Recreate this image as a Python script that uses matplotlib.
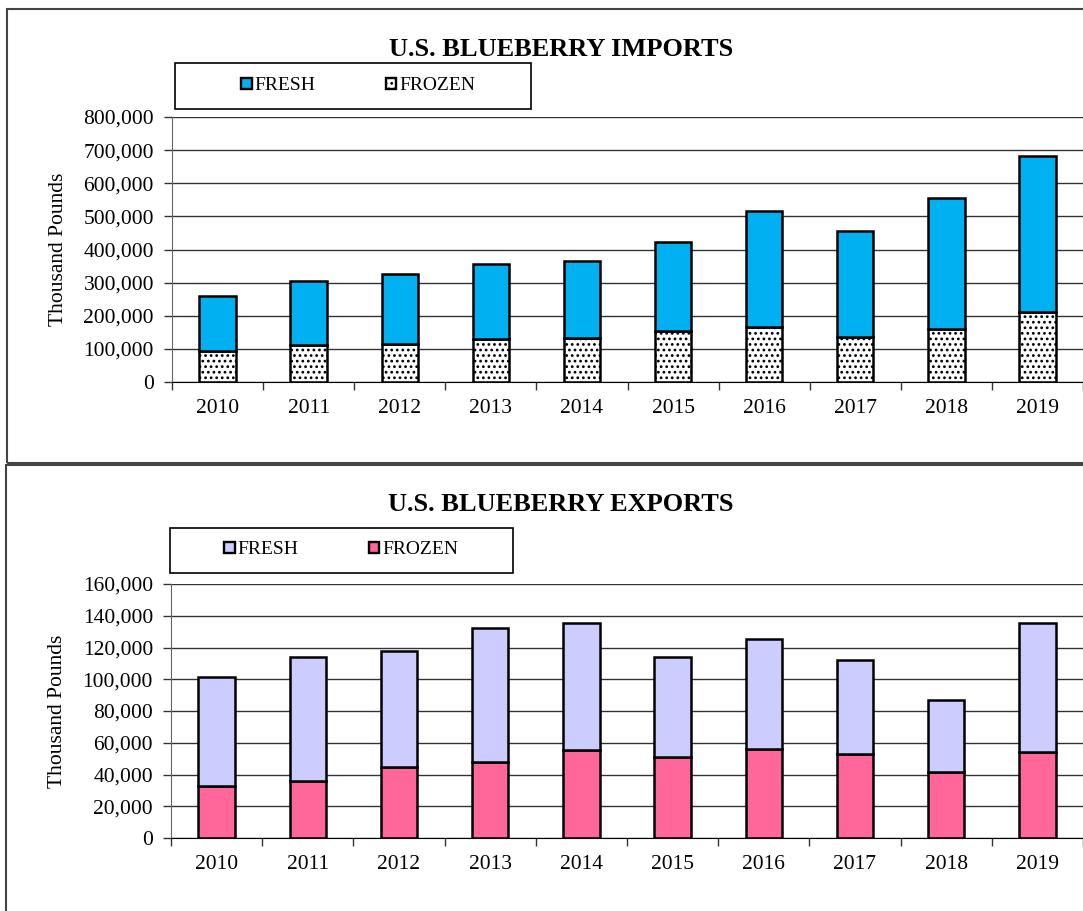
import numpy as np
import matplotlib.pyplot as plt
from matplotlib.patches import Rectangle, Patch

plt.rcParams['font.family'] = 'Liberation Serif'
plt.rcParams['hatch.linewidth'] = 1.2

years = ['2010', '2011', '2012', '2013', '2014', '2015', '2016', '2017', '2018', '2019']

# thousand pounds
imp_frozen = [93000, 113000, 116000, 131000, 133000, 153000, 167000, 137000, 161000, 212000]
imp_total = [261000, 304000, 327000, 357000, 366000, 422000, 517000, 456000, 555000, 683000]
exp_frozen = [32600, 35800, 44600, 47800, 55600, 51200, 55800, 53100, 41500, 54300]
exp_total = [101500, 114300, 118100, 132200, 135200, 114100, 125500, 112000, 86700, 135400]

imp_fresh = [t - f for t, f in zip(imp_total, imp_frozen)]
exp_fresh = [t - f for t, f in zip(exp_total, exp_frozen)]

W, H = 1083, 911
fig = plt.figure(figsize=(W / 100, H / 100), dpi=100)


def fx(px):
    return px / W


def fy(py):
    return 1 - py / H


# panel frames
fig.patches.append(Rectangle((fx(7), fy(463)), 1.2, fy(9) - fy(463), transform=fig.transFigure,
                             fill=False, edgecolor='#444444', lw=1.5))
fig.patches.append(Rectangle((fx(6), fy(1000)), 1.2, fy(465) - fy(1000), transform=fig.transFigure,
                             fill=False, edgecolor='#444444', lw=1.5))


def panel(rect, bottom_vals, top_vals, bottom_style, top_color, ymax, step, title, title_y,
          leg_box, leg_center):
    ax = fig.add_axes(rect)
    x = np.arange(len(years))
    ax.bar(x, bottom_vals, width=0.4, edgecolor='black', linewidth=1.8, **bottom_style)
    ax.bar(x, top_vals, width=0.4, bottom=bottom_vals, color=top_color,
           edgecolor='black', linewidth=1.8)
    ax.set_xlim(-0.5, 9.5)
    ax.set_ylim(0, ymax)
    ax.set_yticks(np.arange(0, ymax + 1, step))
    ax.set_yticklabels([f'{int(v):,}' for v in np.arange(0, ymax + 1, step)], fontsize=15.5)
    ax.set_xticks(x)
    ax.set_xticklabels(years, fontsize=15.5)
    ax.set_xticks(np.arange(-0.5, 10, 1), minor=True)
    ax.tick_params(axis='x', which='major', length=0, pad=12)
    ax.tick_params(axis='x', which='minor', length=6, width=1, color='#333333')
    ax.tick_params(axis='y', length=6, width=1, color='#333333', pad=7)
    ax.grid(axis='y', color='#333333', lw=1)
    ax.set_axisbelow(True)
    for s in ['top', 'right']:
        ax.spines[s].set_visible(False)
    ax.spines['left'].set_color('#666666')
    ax.spines['bottom'].set_color('black')
    ax.set_ylabel('Thousand Pounds', fontsize=15.5, labelpad=11)
    fig.text(fx(561), fy(title_y), title, ha='center', va='center',
             fontsize=19, fontweight='bold')
    # legend frame
    x0, y0, x1, y1 = leg_box
    fig.patches.append(Rectangle((fx(x0), fy(y1)), fx(x1) - fx(x0), fy(y0) - fy(y1),
                                 transform=fig.transFigure, fill=False,
                                 edgecolor='black', lw=1.2))
    handles = [Patch(facecolor=top_color, edgecolor='black', lw=1.7, label='FRESH'),
               Patch(edgecolor='black', lw=1.7, label='FROZEN', **bottom_style)]
    fig.legend(handles=handles, loc='center', bbox_to_anchor=(fx(leg_center[0]), fy(leg_center[1])),
               ncol=2, frameon=False, fontsize=14, handlelength=0.55, handleheight=0.55,
               handletextpad=0.15, columnspacing=3.6)
    return ax


panel([fx(172), fy(382), 1 - fx(172), fy(117) - fy(382)], imp_frozen, imp_fresh,
      dict(facecolor='white', hatch='...'), '#00B0F0', 800000, 100000,
      'U.S. BLUEBERRY IMPORTS', 49, (175, 63, 531, 109), (358, 86))

panel([fx(171), fy(838), 1 - fx(171), fy(584) - fy(838)], exp_frozen, exp_fresh,
      dict(facecolor='#FF6699'), '#CCCCFF', 160000, 20000,
      'U.S. BLUEBERRY EXPORTS', 504, (170, 528, 513, 573), (341, 550))

fig.savefig('out.png', dpi=100)
